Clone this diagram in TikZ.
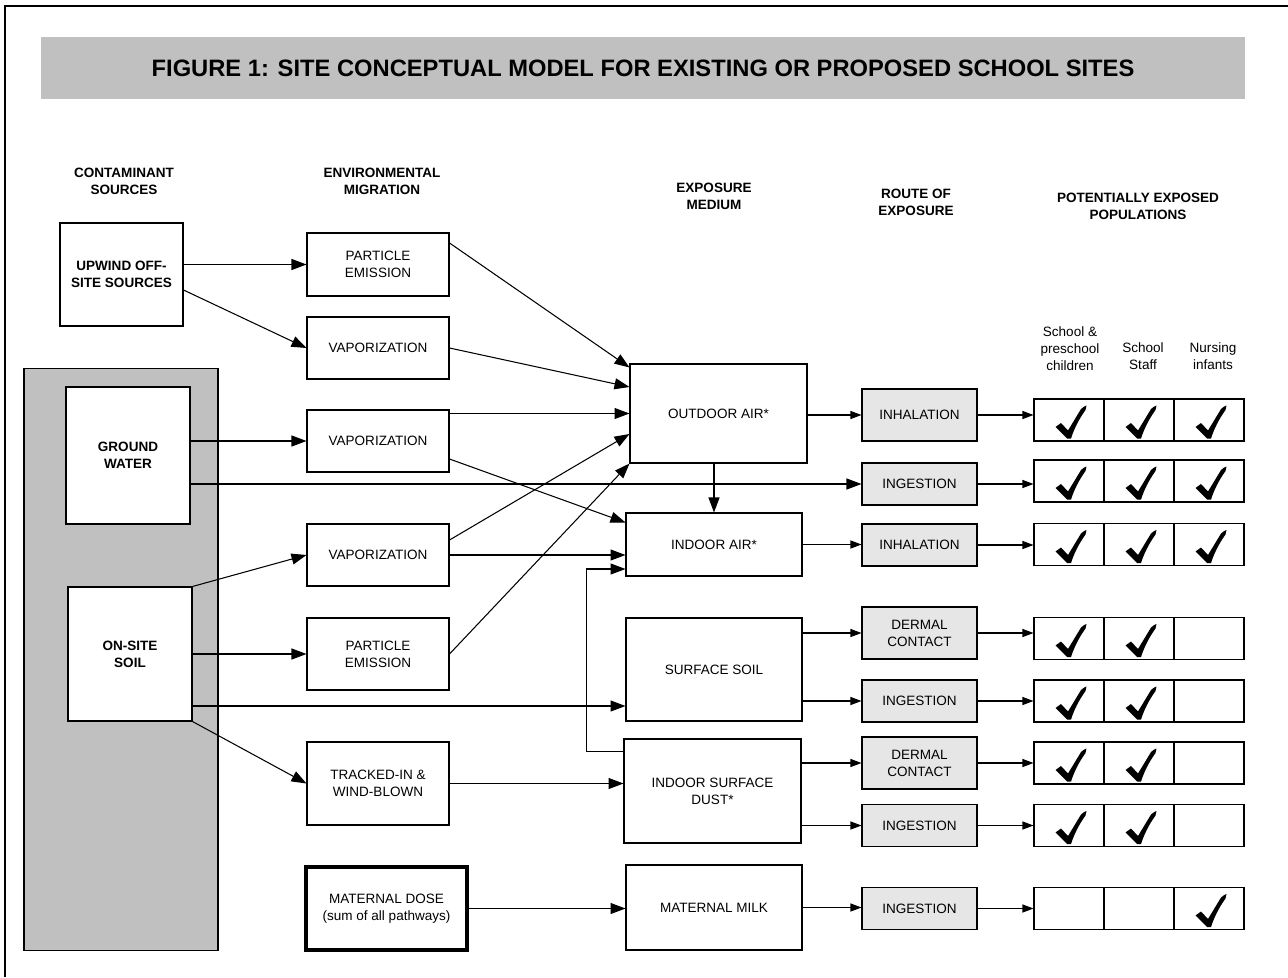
\documentclass[tikz,border=0pt]{standalone}
\usepackage{fontspec}
\setmainfont{Liberation Sans}
\usetikzlibrary{arrows.meta,calc}
\definecolor{bandgray}{HTML}{C0C0C0}
\definecolor{routegray}{HTML}{E6E6E6}
\newcommand{\fs}{\fontsize{7.7}{9.6}\selectfont}

\begin{document}
\begin{tikzpicture}[
  x=0.02cm, y=-0.02cm,
  font=\fs,
  line width=0.6pt,
  box/.style={draw, fill=white, align=center, inner sep=1pt},
  srcbox/.style={box, font=\fs\bfseries, minimum width=2.48cm},
  migbox/.style={box, minimum width=2.84cm, minimum height=1.24cm},
  medbox/.style={box, minimum width=3.52cm},
  routebox/.style={box, fill=routegray, minimum width=2.3cm, minimum height=0.84cm},
  cell/.style={draw, minimum width=1.4cm, minimum height=0.84cm, inner sep=0pt},
  head/.style={align=center, font=\fs\bfseries},
  poplabel/.style={align=center},
  arrow/.style={-{Triangle[length=0.3cm, width=0.22cm]}},
  sarrow/.style={-{Triangle[length=0.22cm, width=0.16cm]}},
  checkmark/.pic={
    \fill (-15.5,5) -- (-10,1) -- (-3,8.5) -- (10,-13) .. controls (12,-15) and (14,-16) .. (15.5,-16.5)
      -- (14.5,-12) .. controls (8,-3) and (3,7) .. (0,16.5) -- (-4,16.5) -- cycle;
  }
]
\useasboundingbox (0,0) rectangle (1288,977);
\draw (5,977) -- (5,6) -- (1288,6);

% title band
\node[fill=bandgray, minimum width=24.08cm, minimum height=1.24cm,
  font=\fontsize{13.5}{16}\selectfont\bfseries] (title) at (643,68)
  {FIGURE 1: SITE CONCEPTUAL MODEL FOR EXISTING OR PROPOSED SCHOOL SITES};

% column heads
\node[head] (hsrc) at (124,181) {CONTAMINANT\\SOURCES};
\node[head] (hmig) at (382,181) {ENVIRONMENTAL\\MIGRATION};
\node[head] (hmed) at (714,196) {EXPOSURE\\MEDIUM};
\node[head] (hrte) at (916,202) {ROUTE OF\\EXPOSURE};
\node[head] (hpop) at (1138,206) {POTENTIALLY EXPOSED\\POPULATIONS};

\node[poplabel] (pchild) at (1070,349) {School \&\\preschool\\children};
\node[poplabel] (pstaff) at (1143,356) {School\\Staff};
\node[poplabel] (pinf) at (1213,356) {Nursing\\infants};

% sources
\node[draw, fill=bandgray, minimum width=3.88cm, minimum height=11.66cm] (onsite) at (121,659.5) {};
\node[srcbox, minimum width=2.46cm, minimum height=2.06cm] (upw) at (121.5,274.5) {UPWIND OFF-\\SITE SOURCES};
\node[srcbox, minimum height=2.74cm] (gw) at (128,455.5) {GROUND\\WATER};
\node[srcbox, minimum height=2.68cm] (soil) at (130,654) {ON-SITE\\SOIL};

% migration
\node[migbox, minimum height=1.26cm] (pe1) at (378,264.5) {PARTICLE\\EMISSION};
\node[migbox] (vap1) at (378,348) {VAPORIZATION};
\node[migbox] (vap2) at (378,441) {VAPORIZATION};
\node[migbox] (vap3) at (378,555) {VAPORIZATION};
\node[migbox, minimum height=1.44cm] (pe2) at (378,654) {PARTICLE\\EMISSION};
\node[migbox, minimum height=1.66cm] (track) at (378,783.5) {TRACKED-IN \&\\WIND-BLOWN};
\node[box, line width=1.8pt, minimum width=3.22cm, minimum height=1.66cm] (mdose) at (386.5,908.5)
  {MATERNAL DOSE\\(sum of all pathways)};

% exposure medium
\node[medbox, minimum width=3.54cm, minimum height=1.98cm] (outdoor) at (718.5,413.5) {OUTDOOR AIR*};
\node[medbox, minimum height=1.26cm] (indoor) at (714,544.5) {INDOOR AIR*};
\node[medbox, minimum height=2.06cm] (surf) at (714,669.5) {SURFACE SOIL};
\node[medbox, minimum width=3.54cm, minimum height=2.08cm] (dust) at (712.5,791) {INDOOR SURFACE\\DUST*};
\node[medbox, minimum height=1.70cm] (milk) at (714,907.5) {MATERNAL MILK};

% route of exposure
\node[routebox, minimum height=1.04cm] (inh1) at (919.5,415) {INHALATION};
\node[routebox] (ing1) at (919.5,484) {INGESTION};
\node[routebox] (inh2) at (919.5,545) {INHALATION};
\node[routebox, minimum height=1.04cm] (der1) at (919.5,633) {DERMAL\\CONTACT};
\node[routebox] (ing2) at (919.5,701) {INGESTION};
\node[routebox, minimum height=1.04cm] (der2) at (919.5,763) {DERMAL\\CONTACT};
\node[routebox] (ing3) at (919.5,825.5) {INGESTION};
\node[routebox] (ing4) at (919.5,908.5) {INGESTION};

% populations grid
\foreach \r/\y/\ca/\cb/\cc in {1/420/1/1/1, 2/481/1/1/1, 3/544.5/1/1/1, 4/638.5/1/1/0,
    5/701/1/1/0, 6/763/1/1/0, 7/825.5/1/1/0, 8/908.5/0/0/1} {
  \node[cell] (g\r a) at (1069,\y) {};
  \node[cell] (g\r b) at (1139,\y) {};
  \node[cell] (g\r c) at (1209,\y) {};
  \ifnum\ca=1 \pic at ($(g\r a.center)+(2,2)$) {checkmark};\fi
  \ifnum\cb=1 \pic at ($(g\r b.center)+(2,2)$) {checkmark};\fi
  \ifnum\cc=1 \pic at ($(g\r c.center)+(2,2)$) {checkmark};\fi
}

% sources -> migration
\draw[arrow] (upw.east |- pe1.west) -- (pe1.west);
\draw[arrow] ($(upw.east)+(0,15.5)$) -- (vap1.west);
\draw[arrow] (gw.east |- vap2.west) -- (vap2.west);
\draw[arrow] (gw.east |- ing1.west) -- (ing1.west);
\draw[arrow] (soil.north east) -- (vap3.west);
\draw[arrow] (soil.east |- pe2.west) -- (pe2.west);
\coordinate (s2s) at ($(surf.west)+(0,36.5)$);
\draw[arrow] (soil.east |- s2s) -- (s2s);
\draw[arrow] (soil.south east) -- (track.west);

% migration -> medium
\draw[arrow] ($(pe1.east)+(0,-21.5)$) -- ($(outdoor.north west)+(0,4)$);
\draw[arrow] (vap1.east) -- ($(outdoor.west)+(0,-26.5)$);
\draw[arrow] (vap2.east |- outdoor.west) -- (outdoor.west);
\draw[arrow] ($(vap2.east)+(0,18)$) -- ($(indoor.west)+(0,-22)$);
\draw[arrow] ($(vap3.east)+(0,-15)$) -- ($(outdoor.west)+(0,20.5)$);
\draw[arrow] (vap3.east) -- (vap3.east -| indoor.west);
\draw[arrow] (pe2.east) -- (outdoor.south west);
\draw[arrow] (track.east) -- (track.east -| dust.west);
\draw[arrow] (mdose.east) -- (mdose.east -| milk.west);
\draw[arrow] (indoor.north |- outdoor.south) -- (indoor.north);
\coordinate (dustin) at ($(indoor.west)+(0,24.5)$);
\draw[arrow] ($(dust.north west)+(0,13)$) -- ++(-37,0) |- (dustin);

% medium -> route
\draw[sarrow] (outdoor.east |- inh1.west) -- (inh1.west);
\draw[sarrow] (indoor.east) -- (indoor.east -| inh2.west);
\draw[sarrow] (surf.east |- der1.west) -- (der1.west);
\draw[sarrow] (surf.east |- ing2.west) -- (ing2.west);
\draw[sarrow] (dust.east |- der2.west) -- (der2.west);
\draw[sarrow] (dust.east |- ing3.west) -- (ing3.west);
\draw[sarrow] (milk.east) -- (milk.east -| ing4.west);

% route -> populations
\foreach \rt/\r in {inh1/1, ing1/2, inh2/3, der1/4, ing2/5, der2/6, ing3/7, ing4/8}
  \draw[sarrow] (\rt.east) -- (\rt.east -| g\r a.west);
\end{tikzpicture}
\end{document}
